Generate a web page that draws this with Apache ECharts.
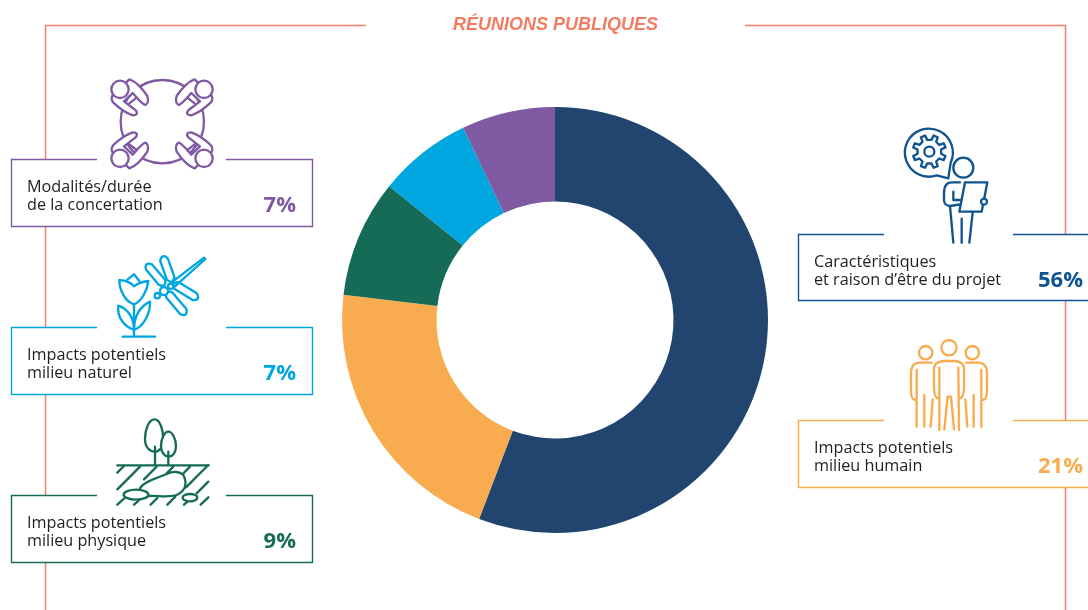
<!DOCTYPE html>
<html><head><meta charset="utf-8">
<style>html,body{margin:0;padding:0;background:#fff}#c{width:1088px;height:610px}</style>
<script src="https://cdn.jsdelivr.net/npm/echarts@6/dist/echarts.min.js"></script>
</head><body><div id="c"></div>
<script>
const title = 'RÉUNIONS PUBLIQUES';
const categories = ['Caractéristiques\net raison d’être du projet','Impacts potentiels\nmilieu humain','Impacts potentiels\nmilieu physique','Impacts potentiels\nmilieu naturel','Modalités/durée\nde la concertation'];
const values = [55.8,21.1,8.9,7.1,7.1];
const sliceColors = ['#21456F','#F8AC4F','#156B55','#00A6DF','#7F59A1'];
const textColors = ['#0F5490','#F8AC4F','#156B55','#00A6DF','#7F59A1'];
const boxes = [[798,234,1090,300,884,1013],[798,420,1090,487,884,1013],[11,495,312,562,97,226],[11,327,312,394,97,226],[11,159,312,226,97,226]];
const FONT = '"Open Sans","Noto Sans",sans-serif';
const SALMON = '#F2806A';
const LW = 7;

let pathCount=0;
const P = (d,c,w,fill)=>{const name='iconPath'+(pathCount++);
  echarts.graphic.registerShape(name,echarts.graphic.extendPath(d,{}));
  return {type:name,style:{stroke:c,lineWidth:w||LW,fill:fill||'none',lineCap:'round',lineJoin:'round'}};};
const C = (x,y,r,c,w,fill)=>({type:'circle',shape:{cx:x,cy:y,r:r},style:{stroke:c,lineWidth:w||LW,fill:fill||'#fff'}});
const G = (x,y,ch,sx,sy)=>({type:'group',x:x,y:y,scaleX:sx||1,scaleY:sy||sx||1,children:ch});
const setZ=(el,z)=>{el.z=z;(el.children||[]).forEach(k=>setZ(k,z));return el;};
const capsule=(x1,y1,x2,y2,w)=>{const dx=x2-x1,dy=y2-y1,l=Math.hypot(dx,dy),nx=-dy/l*w,ny=dx/l*w,ux=dx/l*w,uy=dy/l*w;
  return `M${x1+nx} ${y1+ny} L${x2+nx} ${y2+ny} Q${x2+ux*1.8} ${y2+uy*1.8} ${x2-nx} ${y2-ny} L${x1-nx} ${y1-ny} Q${x1-ux*1.8} ${y1-uy*1.8} ${x1+nx} ${y1+ny}Z`;};
const gear=(cx,cy,ro,ri,n)=>{let d='';const step=Math.PI*2/n;for(let i=0;i<n;i++){const a=i*step-step/2;
  [[ri,a-step*.27],[ro,a-step*.17],[ro,a+step*.17],[ri,a+step*.27]].forEach((p,j)=>{d+=(i===0&&j===0?'M':'L')+(cx+p[0]*Math.cos(p[1]))+' '+(cy+p[0]*Math.sin(p[1]))+' ';});}return d+'Z';};

function purpleIcon(){const c=sliceColors[4];
  const person=()=>[P('M388 58 C410 65 430 90 442 108 C446 120 444 132 436 135 C428 134 418 122 398 99 L372 124 L406 150 C414 158 412 166 398 166 C380 160 358 145 340 128 C332 118 334 108 342 102Z',c,LW,'#fff'),
    P('M388 130 L410 113',c,LW),C(360,88,26,c,LW)];
  return G(0,60,[C(487,185,125,c,LW,'none'),G(0,0,person()),G(972,0,person(),-1,1),G(0,383,person(),1,-1),G(972,383,person(),-1,-1)],1/3);}
function cyanIcon(){const c='#00A6DF';
  return G(0,245,[
   P('M402 178 L402 272 M368 275 L465 275',c,LW),
   P('M402 178 C375 170 358 135 358 105 C375 106 392 112 402 124 C412 116 430 110 445 108 C442 135 425 170 402 178Z',c,LW),
   P('M382 104 L402 88 L418 108',c,LW),
   P('M402 255 C372 245 350 215 355 182 C385 192 402 220 402 255Z',c,LW),
   P('M402 255 C430 245 452 205 450 170 C420 185 402 215 402 255Z',c,LW),
   P(capsule(486,112,447,66,12),c,LW),P(capsule(512,100,492,44,12),c,LW),
   P(capsule(530,122,584,155,12),c,LW),P(capsule(508,150,550,200,12),c,LW),
   P('M515 112 L612 38 L616 42 L525 124',c,LW),
   C(472,152,8,c,LW),C(492,138,12,c,LW),C(512,124,8,c,LW)],1/3);}
function greenIcon(){const c=sliceColors[2];
  const hatch=[[352,188,372,168],[352,238,420,170],[432,208,470,170],[500,190,520,170],[550,190,570,170],[558,232,625,165],[590,250,625,215],[602,284,625,262],[352,284,372,266],[402,284,416,272],[452,284,472,264],[502,284,526,260],[552,284,566,272]];
  return G(0,410,[
   P(hatch.map(h=>`M${h[0]} ${h[1]} L${h[2]} ${h[3]}`).join(' '),c,LW),
   P('M352 166 L625 166',c,LW),
   P('M464 28 C445 28 435 60 435 88 C435 112 450 125 464 125 C478 125 490 112 490 88 C490 60 480 28 464 28Z',c,LW,'#fff'),
   P('M465 110 L465 165',c,LW),
   P('M505 65 C492 65 483 90 483 108 C483 128 495 140 505 140 C518 140 528 128 528 108 C528 90 518 65 505 65Z',c,LW,'#fff'),
   P('M505 125 L505 165',c,LW),
   P('M420 235 C430 215 470 205 500 192 C520 182 540 185 550 195 C560 215 562 240 530 255 C500 265 470 255 445 258 C430 255 420 245 420 235Z',c,LW,'#fff'),
   {type:'ellipse',shape:{cx:408,cy:254,rx:37,ry:15},style:{stroke:c,lineWidth:LW,fill:'#fff'}},
   {type:'ellipse',shape:{cx:570,cy:263,rx:22,ry:11},style:{stroke:c,lineWidth:LW,fill:'#fff'}}],1/3);}
function navyIcon(){const c=textColors[0];
  return G(780,120,[
   P('M470 166 A72 72 0 1 1 512 128 L505 175Z',c,LW),
   P(gear(448,95,50,36,8),c,LW),C(448,95,15,c,LW),
   C(550,143,30,c,LW),
   P('M540 187 L515 187 C500 187 492 200 492 220 L492 240 C492 252 500 258 510 258 L550 252 M520 215 L520 240 L548 240',c,LW),
   P('M510 258 L520 368 M545 296 L545 368 M578 278 L568 368',c,LW),
   P('M555 187 L622 187 L605 275 L538 275Z',c,LW,'#fff'),
   C(612,245,9,c,LW)],1/3);}
function orangeIcon(){const c='#F8AC4F';
  const side=()=>[C(437,68,20,c,LW),P('M455 98 L415 98 C400 100 393 110 393 130 L393 180 C393 195 395 210 405 210 M410 120 L410 290 M433 195 L433 290 M458 208 L452 290',c,LW)];
  return G(780,330,[G(0,0,side()),G(1014,0,side(),-1,1),C(507,53,23,c,LW),
   P('M475 205 C465 205 462 190 462 170 L462 115 C462 100 475 95 490 93 L525 93 C540 95 552 100 552 115 L552 170 C552 190 548 205 538 205 M478 113 L478 300 M535 113 L537 300 M493 298 L503 200 L513 200 L522 298',c,LW)],1/3);}

const frame=[
 {type:'polyline',shape:{points:[[366,25.5],[45.5,25.5],[45.5,612]]},style:{stroke:SALMON,lineWidth:1.5,fill:'none'},z:1},
 {type:'polyline',shape:{points:[[745,25.5],[1065.5,25.5],[1065.5,612]]},style:{stroke:SALMON,lineWidth:1.5,fill:'none'},z:1},
 {type:'text',x:555.5,y:25,style:{text:title,fill:'#F47A60',font:'italic bold 18px "Liberation Sans",Arial,sans-serif',align:'center',verticalAlign:'middle'},z:5}];

const boxEls=[];
categories.forEach((name,i)=>{const b=boxes[i],c=textColors[i];
  boxEls.push({type:'rect',shape:{x:b[0]+.5,y:b[1]+.5,width:b[2]-b[0],height:b[3]-b[1]},style:{fill:'#fff',stroke:c,lineWidth:1.4},z:2});
  boxEls.push({type:'rect',shape:{x:b[4],y:b[1]-1,width:b[5]-b[4],height:3},style:{fill:'#fff',stroke:null},z:3});
  const right=b[0]===11?296:1083;
  boxEls.push({type:'text',x:b[0]+16,y:b[1]+37.5,z:5,style:{text:name,fill:'#1e1e1e',font:'16.2px '+FONT,lineHeight:18.5,align:'left',verticalAlign:'middle'}});
  boxEls.push({type:'text',x:right,y:b[1]+47,z:5,style:{text:Math.round(values[i])+'%',fill:c,font:'bold 22px '+FONT,align:'right',verticalAlign:'middle'}});
});
const icons=[purpleIcon(),cyanIcon(),greenIcon(),navyIcon(),orangeIcon()].map(g=>setZ(g,4));

const chart=echarts.init(document.getElementById('c'),null,{renderer:'canvas'});
chart.setOption({
  animation:false,
  backgroundColor:'#fff',
  series:[{type:'pie',center:[555,320],radius:[118.5,213],startAngle:90,clockwise:true,silent:true,
    label:{show:false},labelLine:{show:false},itemStyle:{borderWidth:0},z:6,
    data:categories.map((n,i)=>({name:n,value:values[i],itemStyle:{color:sliceColors[i]}}))}],
  graphic:{elements:[...frame,...boxEls,...icons]}
});
</script></body></html>
